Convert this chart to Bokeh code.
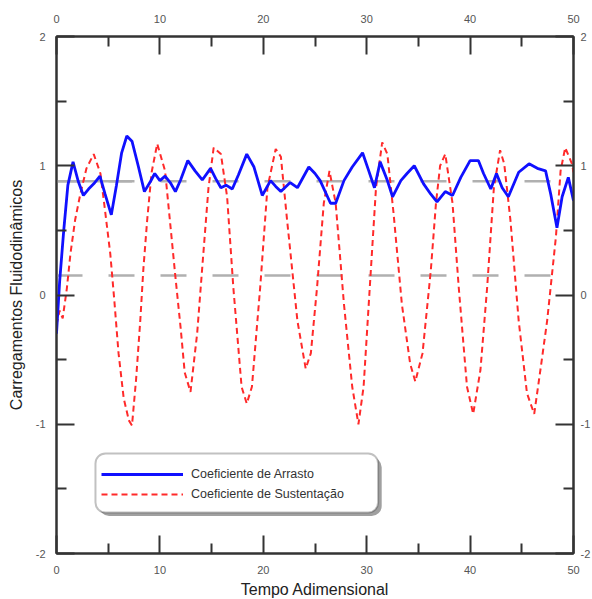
from bokeh.plotting import figure
from bokeh.models import (LinearAxis, FixedTicker, Range1d, Legend, LegendItem,
                          BoxAnnotation)
from bokeh.embed import file_html
from bokeh.resources import INLINE

# ---------------- data ----------------
t_drag = [0.0, 0.3, 0.7, 1.1, 1.6, 2.1, 2.6, 3.1, 3.6, 4.2, 4.7, 5.3, 5.8, 6.3,
          6.8, 7.3, 7.9, 8.5, 9.1, 9.5, 10.0, 10.5, 11.0, 11.5, 12.0, 12.7,
          13.4, 14.1, 14.9, 15.4, 15.9, 16.4, 17.0, 17.6, 18.4, 19.1, 19.9,
          20.7, 21.2, 21.7, 22.6, 23.3, 24.4, 25.0, 25.5, 26.5, 27.0, 27.8,
          28.6, 29.6, 30.2, 30.75, 31.3, 32.0, 32.5, 33.3, 33.9, 34.6, 35.5,
          36.2, 36.8, 37.6, 38.3, 39.1, 40.0, 40.8, 41.3, 42.0, 42.55, 43.1,
          43.7, 44.7, 45.7, 46.5, 47.3, 47.8, 48.4, 48.9, 49.5, 50.0]
cd = [-0.30, 0.10, 0.50, 0.85, 1.03, 0.88, 0.77, 0.82, 0.86, 0.92, 0.78, 0.62,
      0.85, 1.10, 1.23, 1.19, 1.00, 0.80, 0.88, 0.94, 0.885, 0.92, 0.87, 0.80,
      0.89, 1.04, 0.96, 0.89, 0.98, 0.90, 0.83, 0.85, 0.82, 0.93, 1.09, 0.99,
      0.77, 0.885, 0.84, 0.80, 0.87, 0.83, 0.99, 0.94, 0.885, 0.71, 0.71,
      0.885, 0.99, 1.10, 0.96, 0.83, 1.03, 0.885, 0.76, 0.885, 0.94, 1.00,
      0.86, 0.78, 0.72, 0.80, 0.77, 0.91, 1.04, 1.04, 0.94, 0.82, 0.94, 0.83,
      0.76, 0.95, 1.015, 0.98, 0.96, 0.78, 0.52, 0.76, 0.91, 0.73]

t_lift = [0.0, 0.3, 0.6, 1.0, 1.35, 1.8, 2.3, 2.9, 3.6, 4.25, 4.7, 5.2, 5.6,
          6.0, 6.5, 7.0, 7.3, 7.7, 8.1, 8.4, 8.77, 9.2, 9.74, 10.5, 11.0, 11.5,
          12.0, 12.4, 12.96, 13.6, 14.2, 14.7, 15.2, 15.9, 16.5, 17.1, 17.9,
          18.4, 18.9, 19.7, 20.4, 21.2, 21.7, 22.3, 23.3, 24.1, 24.6, 25.2,
          25.85, 26.4, 27.0, 27.8, 28.6, 29.2, 29.7, 30.4, 30.9, 31.5, 32.0,
          32.6, 33.4, 34.2, 34.7, 35.4, 36.2, 36.7, 37.1, 37.6, 38.3, 38.9,
          39.7, 40.3, 41.0, 41.65, 42.3, 42.9, 43.3, 43.9, 44.7, 45.5, 46.2,
          46.8, 47.45, 48.3, 48.75, 49.2, 49.85, 50.0]
cl = [-0.23, -0.12, -0.18, 0.05, 0.32, 0.58, 0.78, 0.98, 1.09, 0.94, 0.65, 0.32,
      -0.05, -0.45, -0.80, -0.97, -1.01, -0.65, -0.20, 0.20, 0.58, 0.95, 1.17,
      0.96, 0.55, 0.14, -0.25, -0.60, -0.75, -0.30, 0.32, 0.83, 1.14, 1.09,
      0.76, 0.06, -0.71, -0.84, -0.71, 0.06, 0.83, 1.13, 1.07, 0.58, -0.20,
      -0.57, -0.45, 0.06, 0.71, 0.96, 0.71, -0.07, -0.71, -1.00, -0.71, 0.19,
      0.83, 1.18, 1.09, 0.63, -0.07, -0.53, -0.67, -0.45, 0.19, 0.71, 1.00,
      1.09, 0.71, 0.06, -0.71, -0.92, -0.58, 0.06, 0.83, 1.12, 1.015, 0.58,
      -0.20, -0.76, -0.92, -0.58, -0.20, 0.45, 0.96, 1.14, 1.015, 0.95]

t_span = [0, 50]
t_initial = [0, 7.3]
drag_mean = 0.88
lift_mean = 0.15

x_ticks = [0, 10, 20, 30, 40, 50]
x_minor = [5, 15, 25, 35, 45]
y_ticks = [-2, -1, 0, 1, 2]
y_minor = [-1.5, -0.5, 0.5, 1.5]
y_tick_labels = ["-2", "-1", "0", "1", "2"]
x_tick_labels = ["0", "10", "20", "30", "40", "50"]

series_names = ["Coeficiente de Arrasto", "Coeficiente de Sustentação"]

FONT = "Liberation Sans"

p = figure(frame_width=517, frame_height=517,
           x_range=Range1d(0, 50), y_range=Range1d(-2, 2),
           output_backend="svg", toolbar_location=None,
           min_border_left=56, min_border_right=19, min_border_top=36,
           min_border_bottom=46)
p.grid.visible = False
p.outline_line_color = "#333333"
p.outline_line_width = 2

top = LinearAxis()
right = LinearAxis()
p.add_layout(top, "above")
p.add_layout(right, "right")

bottom = p.below[0]
left = p.left[0]


def style(ax, ticks, minor, labels, standoff):
    ax.ticker = FixedTicker(ticks=ticks, minor_ticks=minor)
    ax.major_label_overrides = {t: l for t, l in zip(ticks, labels)}
    ax.major_tick_in = 18
    ax.major_tick_out = 0
    ax.minor_tick_in = 10
    ax.minor_tick_out = 0
    ax.axis_line_width = 2
    ax.axis_line_color = "#333333"
    ax.major_tick_line_width = 2
    ax.minor_tick_line_width = 2
    ax.major_tick_line_color = "#333333"
    ax.minor_tick_line_color = "#333333"
    ax.major_label_text_font = FONT
    ax.major_label_text_font_size = "11px"
    ax.major_label_text_color = "#555555"
    ax.major_label_standoff = standoff
    ax.axis_label_text_font = FONT
    ax.axis_label_text_font_size = "16px"
    ax.axis_label_text_font_style = "normal"
    ax.axis_label_text_color = "#222222"


style(bottom, x_ticks, x_minor, x_tick_labels, 12)
style(top, x_ticks, x_minor, x_tick_labels, 14)
style(left, y_ticks, y_minor, y_tick_labels, 11)
style(right, y_ticks, y_minor, y_tick_labels, 7)
bottom.axis_label = "Tempo Adimensional"
bottom.axis_label_standoff = 4
left.axis_label = "Carregamentos Fluidodinâmicos"
left.axis_label_standoff = 8

# mean reference lines
p.line(t_span, [drag_mean] * 2, line_color="#b0b0b0", line_width=2.5, line_dash="26 26")
p.line(t_initial, [drag_mean] * 2, line_color="#b0b0b0", line_width=2.5)
p.line(t_span, [lift_mean] * 2, line_color="#b0b0b0", line_width=2.5, line_dash="26 26")

r_lift = p.line(t_lift, cl, line_color="#ff2a2a", line_width=2, line_dash="6 4")
r_drag = p.line(t_drag, cd, line_color="#1010ff", line_width=2.8)

# legend frame (rounded with shadow)
shadow = BoxAnnotation(left=4.12, right=31.45, top=-1.256, bottom=-1.71,
                       fill_color="#888888", fill_alpha=0.8, line_color=None,
                       border_radius=10)
box = BoxAnnotation(left=3.77, right=31.1, top=-1.226, bottom=-1.683,
                    fill_color="white", fill_alpha=1.0, line_color="#333333",
                    line_width=2, border_radius=10)
p.add_layout(shadow)
p.add_layout(box)

legend = Legend(items=[LegendItem(label=series_names[0], renderers=[r_drag]),
                       LegendItem(label=series_names[1], renderers=[r_lift])],
                location=(45, 49), margin=0, padding=9, spacing=0,
                glyph_width=82, glyph_height=20, label_height=20,
                label_standoff=8, label_text_font=FONT,
                label_text_font_size="12.5px", label_text_color="#333333",
                border_line_color=None, background_fill_alpha=0)
p.add_layout(legend, "center")

open("out.html", "w").write(file_html(p, INLINE))
